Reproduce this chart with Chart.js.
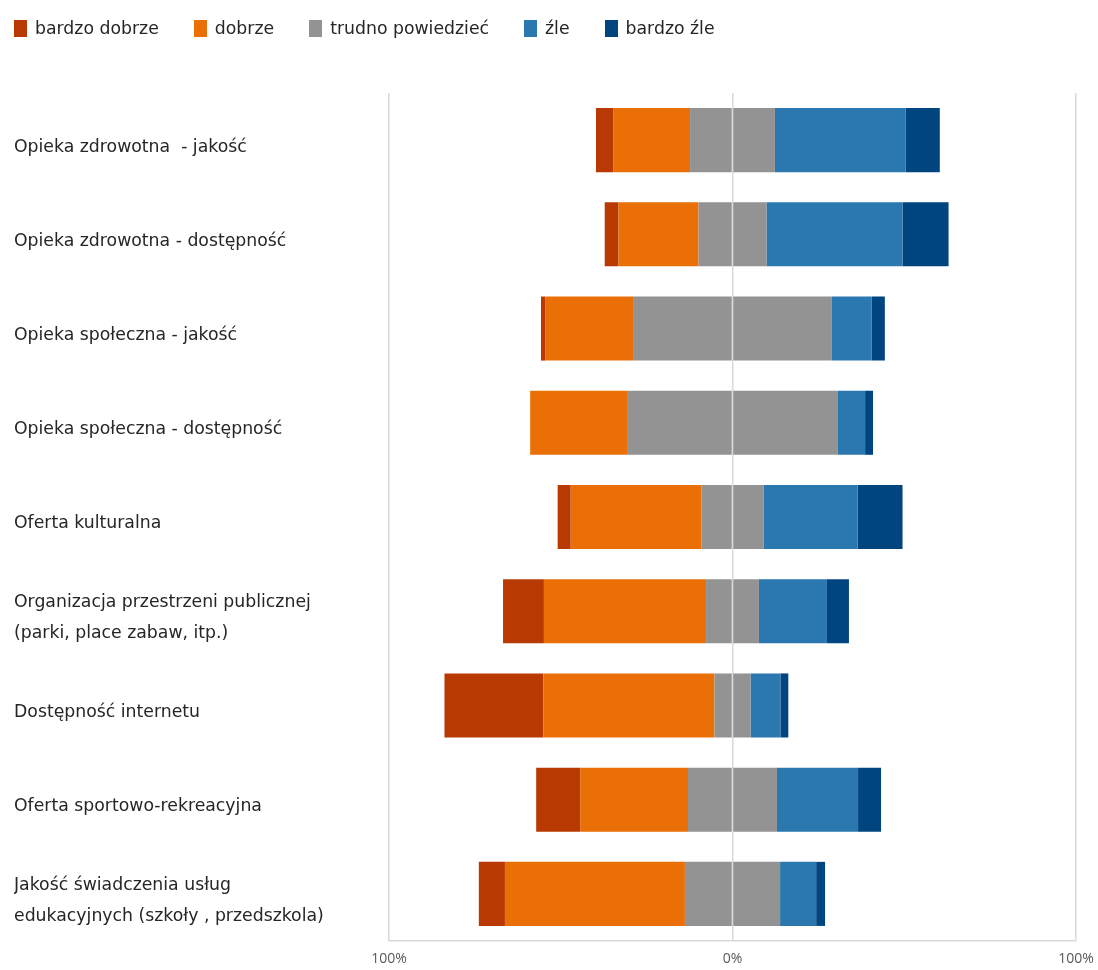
<!DOCTYPE html>
<html lang="pl">
<head>
<meta charset="utf-8">
<title>Ocena usług</title>
<script src="https://cdn.jsdelivr.net/npm/chart.js@4.4.1/dist/chart.umd.min.js"></script>
<style>
    body { margin: 0; background: #fff; font-family: 'DejaVu Sans', sans-serif; }
    .wrap { position: relative; width: 1098px; height: 970px; }
    #legend { position: absolute; left: 14px; top: 18px; display: flex; align-items: center; }
    #legend .item { display: flex; align-items: center; margin-right: 35px; font-size: 17.3px; color: #262626; }
    #legend .box { width: 13px; height: 17px; margin-right: 8px; }
</style>
</head>
<body>
<div class="wrap">
    <div id="legend"></div>
    <canvas id="chart"></canvas>
</div>

<script>
// categories (rows)
const categories = [
    'Opieka zdrowotna  - jakość',
    'Opieka zdrowotna - dostępność',
    'Opieka społeczna - jakość',
    'Opieka społeczna - dostępność',
    'Oferta kulturalna',
    ['Organizacja przestrzeni publicznej', '(parki, place zabaw, itp.)'],
    'Dostępność internetu',
    'Oferta sportowo-rekreacyjna',
    ['Jakość świadczenia usług', 'edukacyjnych (szkoły , przedszkola)']
];

// shares in %
const veryGood = [5.0, 4.0, 1.2, 0.0, 3.8, 11.9, 28.8, 12.8, 7.6];
const good     = [22.4, 23.3, 25.6, 28.2, 38.1, 47.2, 49.8, 31.4, 52.4];
const hardToSay = [24.7, 19.8, 57.9, 61.4, 18.0, 15.4, 10.5, 25.9, 27.7];
const bad      = [38.1, 39.6, 11.6, 7.9, 27.4, 19.8, 8.7, 23.6, 10.5];
const veryBad  = [9.9, 13.4, 3.8, 2.3, 13.1, 6.4, 2.3, 6.7, 2.6];

// axis ticks
const tickValues = [-100, 0, 100];
const tickLabels = ['100%', '0%', '100%'];

const seriesNames = ['bardzo dobrze', 'dobrze', 'trudno powiedzieć', 'źle', 'bardzo źle'];
const seriesColors = ['#B83A02', '#E96F06', '#939393', '#2B77AF', '#00457F'];

// positive answers go left, "trudno powiedzieć" is split around 0
const neg = arr => arr.map(v => -v);
const half = arr => arr.map(v => v / 2);

const datasets = [
    { label: seriesNames[2], data: neg(half(hardToSay)), backgroundColor: seriesColors[2] },
    { label: seriesNames[1], data: neg(good), backgroundColor: seriesColors[1] },
    { label: seriesNames[0], data: neg(veryGood), backgroundColor: seriesColors[0] },
    { label: seriesNames[2], data: half(hardToSay), backgroundColor: seriesColors[2] },
    { label: seriesNames[3], data: bad, backgroundColor: seriesColors[3] },
    { label: seriesNames[4], data: veryBad, backgroundColor: seriesColors[4] }
];

// Legend (html, so it can sit flush left)
const legendEl = document.getElementById('legend');
seriesNames.forEach((name, i) => {
    const item = document.createElement('div');
    item.className = 'item';
    item.innerHTML = `<span class="box" style="background:${seriesColors[i]}"></span>${name}`;
    legendEl.appendChild(item);
});

Chart.defaults.font.family = "'DejaVu Sans', sans-serif";

new Chart(document.getElementById('chart'), {
    type: 'bar',
    data: { labels: categories, datasets: datasets },
    options: {
        indexAxis: 'y',
        responsive: true,
        maintainAspectRatio: false,
        animation: false,
        devicePixelRatio: 1,
        layout: { padding: { top: 93, left: 14, right: 22, bottom: 0 } },
        datasets: {
            bar: { barPercentage: 0.68, categoryPercentage: 1, borderWidth: 0 }
        },
        plugins: {
            legend: { display: false },
            tooltip: { enabled: false }
        },
        scales: {
            x: {
                stacked: true,
                min: -100,
                max: 100,
                z: 1,
                afterBuildTicks(scale) {
                    scale.ticks = tickValues.map(v => ({ value: v }));
                },
                afterFit(scale) {
                    scale.height = 29;
                    // don't let the end labels push the plot area in
                    scale.paddingLeft = 0;
                    scale.paddingRight = 0;
                },
                grid: { color: '#d9d9d9', lineWidth: 1.5, drawTicks: false },
                border: { display: true, color: '#d9d9d9', width: 1.5 },
                ticks: {
                    padding: 10,
                    color: '#595959',
                    font: { family: "'Open Sans', sans-serif", size: 14 },
                    callback: (val, i) => tickLabels[i]
                }
            },
            y: {
                stacked: true,
                grid: { display: false },
                border: { display: false },
                afterFit(scale) { scale.width = 375; },
                ticks: {
                    crossAlign: 'far',
                    labelOffset: 7,
                    color: '#262626',
                    font: { size: 17.3, lineHeight: '31px' }
                }
            }
        }
    }
});
</script>
</body>
</html>
